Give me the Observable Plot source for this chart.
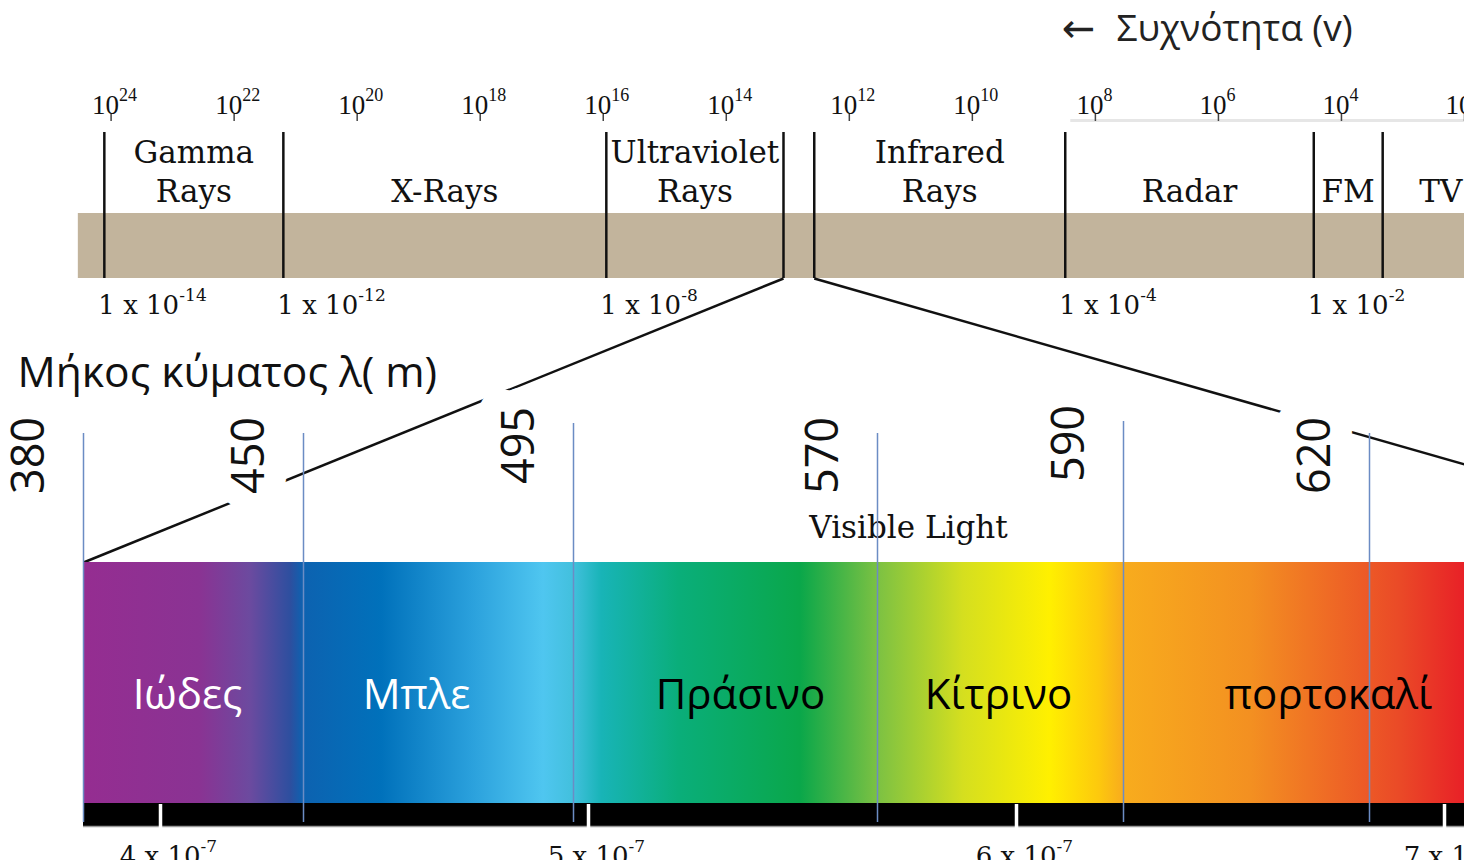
<!DOCTYPE html>
<html><head><meta charset="utf-8">
<script src="https://cdn.jsdelivr.net/npm/d3@7"></script>
<script src="https://cdn.jsdelivr.net/npm/@observablehq/plot@0.6"></script>
<style>
body{margin:0;background:#fff;}
#chart{position:relative;width:1464px;height:860px;overflow:hidden;background:#fff;}
#chart svg{position:absolute;left:0;top:0;}
</style></head><body><div id="chart"></div>
<script>
// ---------- data ----------
const bandNames = ["Gamma\nRays", "X-Rays", "Ultraviolet\nRays", "", "Infrared\nRays", "Radar", "FM", "TV"];
const bandEdges = [24.11, 21.2, 15.95, 13.07, 12.57, 8.49, 4.45, 3.33, 1.44]; // log10 of frequency (Hz)
const freqExponents = [24, 22, 20, 18, 16, 14, 12, 10, 8, 6, 4, 2];
const wavelengthAt = [24.11, 21.2, 15.95, 8.49, 4.45];      // band edge where each wavelength label sits
const wavelengthPow = ["-14", "-12", "-8", "-4", "-2"];       // 1 x 10^pow m
const visibleNm = [380, 450, 495, 570, 590, 620];              // colour boundaries (nm)
const visibleEndNm = 750;
const colorNames = ["Ιώδες", "Μπλε", "Πράσινο", "Κίτρινο", "πορτοκαλί"];
const colorNameInk = ["white", "white", "black", "black", "black"];
const spectrumNm = [380, 417, 433, 446, 450, 463, 478, 490, 495, 502, 521, 551, 570, 577, 584, 588, 590, 605.5, 615, 629, 648, 750];
const spectrumHex = ["#952d91", "#8a3393", "#6c4a9f", "#2d4f9f", "#0d62b0", "#0071bb", "#2aa0dc", "#4fc6f0", "#42c0dd", "#18b4b7", "#0aae7a", "#0aa74a", "#7bc143", "#d5df1f", "#fff000", "#fdc90d", "#f8ac1d", "#f39021", "#ef6b25", "#ea4a27", "#e82127", "#e31e24"];
const barTicksNm = [400, 500, 600, 700];
const barTickDigits = ["4", "5", "6", "7"];
const barTickPow = "-7";

// ---------- layout / style ----------
const W = 1464, H = 860;
const L = {
  freqRange: [110.6, 1464],            // px for 10^24 .. 10^2
  nmRange: [83, 303, 573, 877, 1123, 1369, 1807],
  barNmRange: [160, 1444],
  bandTop: 213, bandBottom: 278, edgeTop: 132,
  bandLabelBase: 201, freqBase: 113, freqExpBase: 100, tickTop: 114, tickBottom: 121,
  wlBase: 313, wlExpBase: 300, wlExpShift: 75,
  specTop: 562, specBottom: 803, barBottom: 826,
  numY: 455, numShift: 54, numRaise: {495: 10, 590: 12}, blueTop: 433, blueBottom: 822,
  nameY: 695, nameNudge: [-6, -22, 15, -2, 82], visY: 537
};
const serifSlab = "DejaVu Serif";
const serif = "Liberation Serif";
const sans = "Open Sans";
const tan = "#c2b49c";
const blue = "#6b8cc4";

const chart = document.getElementById("chart");

// ---------- Plot A: the electromagnetic band (log frequency) ----------
const bands = bandNames.map((name, i) => ({name, x1: bandEdges[i], x2: bandEdges[i + 1], mid: (bandEdges[i] + bandEdges[i + 1]) / 2})).filter(d => d.name);
const wl = wavelengthAt.map((at, i) => ({at, pow: wavelengthPow[i]}));

const plotA = Plot.plot({
  width: W, height: H, margin: 0,
  x: {type: "linear", domain: [24, 2], range: L.freqRange, axis: null},
  y: {type: "linear", domain: [0, H], range: [0, H], axis: null},
  style: {background: "white", overflow: "hidden"},
  marks: [
    Plot.text(["←"], {frameAnchor: "top-left", dx: 1078, dy: 29, textAnchor: "middle", lineAnchor: "middle", fontFamily: "DejaVu Sans", fontSize: 40, fill: "#222"}),
    Plot.text(["Συχνότητα (v)"], {frameAnchor: "top-left", dx: 1116, dy: 40, lineAnchor: "bottom", textAnchor: "start", fontFamily: sans, fontSize: 37, fill: "#222"}),
    Plot.ruleY([0], {x1: 8.4, x2: 2, y: 120, stroke: "#e6e6e6", strokeWidth: 3}),
    Plot.ruleX(freqExponents, {y1: L.tickTop, y2: L.tickBottom, stroke: "#444", strokeWidth: 1.5}),
    Plot.text(freqExponents, {x: d => d, y: L.freqBase, text: () => "10", dx: 8, textAnchor: "end", lineAnchor: "bottom", fontFamily: serif, fontSize: 27, fill: "#111"}),
    Plot.text(freqExponents, {x: d => d, y: L.freqExpBase, text: d => String(d), dx: 8, textAnchor: "start", lineAnchor: "bottom", fontFamily: serif, fontSize: 18, fill: "#111"}),
    Plot.rect([0], {x1: bandEdges[0], x2: bandEdges[bandEdges.length - 1], y1: L.bandTop, y2: L.bandBottom, insetLeft: -26, fill: tan}),
    Plot.ruleX(bandEdges.slice(0, -1), {y1: L.edgeTop, y2: L.bandBottom, stroke: "#111", strokeWidth: 2.5}),
    Plot.text(bands, {x: "mid", y: L.bandLabelBase, text: "name", lineAnchor: "bottom", lineHeight: 1.23, fontFamily: serifSlab, fontSize: 31, fill: "#111"}),
    Plot.text(wl, {x: "at", y: L.wlBase, text: () => "1 x 10", dx: -6, textAnchor: "start", lineAnchor: "bottom", fontFamily: serifSlab, fontSize: 26, fill: "#111"}),
    Plot.text(wl, {x: "at", y: L.wlExpBase, text: "pow", dx: L.wlExpShift, textAnchor: "start", lineAnchor: "bottom", fontFamily: serifSlab, fontSize: 17, fill: "#111"})
  ]
});
chart.appendChild(plotA);
const xFreq = plotA.scale("x").apply;

// ---------- Plot B: visible light (nm) ----------
const nmDomain = [...visibleNm, visibleEndNm];
const xNm = d3.scaleLinear(nmDomain, L.nmRange);
const links = [
  {x1: visibleNm[0], y1: L.specTop, x2: xNm.invert(xFreq(bandEdges[3])), y2: L.bandBottom},
  {x1: visibleEndNm, y1: L.specTop, x2: xNm.invert(xFreq(bandEdges[4])), y2: L.bandBottom}
];
const names = colorNames.map((name, i) => ({name, ink: colorNameInk[i], mid: xNm.invert((xNm(visibleNm[i]) + xNm(visibleNm[i + 1])) / 2 + L.nameNudge[i])}));
const raise = d => L.numRaise[d] || 0;
const numOpts = {x: d => xNm.invert(xNm(d) - L.numShift), y: d => L.numY - raise(d), text: d => String(d), rotate: -90, fontFamily: sans, fontSize: 45, fill: "#111"};

const spectrumDefs = () => {
  const defs = d3.create("svg:defs");
  const g = defs.append("linearGradient").attr("id", "spectrumGrad").attr("x1", 0).attr("x2", 1).attr("y1", 0).attr("y2", 0);
  const a = xNm(visibleNm[0]), b = xNm(visibleEndNm);
  spectrumNm.forEach((nm, i) => g.append("stop").attr("offset", (xNm(nm) - a) / (b - a)).attr("stop-color", spectrumHex[i]));
  return defs.node();
};

const plotB = Plot.plot({
  width: W, height: H, margin: 0,
  x: {type: "linear", domain: nmDomain, range: L.nmRange, axis: null},
  y: {type: "linear", domain: [0, H], range: [0, H], axis: null},
  style: {background: "none", overflow: "hidden"},
  marks: [
    spectrumDefs,
    Plot.link(links, {x1: "x1", y1: "y1", x2: "x2", y2: "y2", stroke: "#111", strokeWidth: 2.5}),
    // labels that sit over the zoom lines get a white halo (gap in the line)
    Plot.text(visibleNm.slice(1), {...numOpts, stroke: "white", strokeWidth: 44, strokeLinejoin: "round", paintOrder: "stroke"}),
    Plot.text(visibleNm.slice(0, 1), numOpts),
    Plot.text(["Μήκος κύματος λ( m)"], {frameAnchor: "top-left", dx: 17, dy: 386, textAnchor: "start", lineAnchor: "bottom", fontFamily: sans, fontSize: 42.5, fill: "#111"}),
    Plot.text(["Visible Light"], {frameAnchor: "top-left", dx: 908, dy: L.visY, textAnchor: "middle", lineAnchor: "bottom", fontFamily: serifSlab, fontSize: 31, fill: "#111"}),
    Plot.rect([0], {x1: visibleNm[0], x2: visibleEndNm, y1: L.specTop, y2: L.specBottom, fill: "url(#spectrumGrad)"}),
    Plot.rect([0], {x1: visibleNm[0], x2: visibleEndNm, y1: L.specBottom, y2: L.barBottom, fill: "black"}),
    Plot.ruleY([0], {x1: visibleNm[0], x2: visibleEndNm, y: L.barBottom, stroke: "#9a9a9a", strokeWidth: 1.5}),
    Plot.text(names, {x: "mid", y: L.nameY, text: "name", fill: "ink", fontFamily: sans, fontSize: 42}),
    Plot.ruleX(visibleNm, {y1: d => L.blueTop - raise(d), y2: L.blueBottom, stroke: blue, strokeWidth: 1.5})
  ]
});
chart.appendChild(plotB);

// ---------- Plot C: metre scale under the spectrum ----------
const plotC = Plot.plot({
  width: W, height: H, margin: 0,
  x: {type: "linear", domain: [barTicksNm[0], barTicksNm[barTicksNm.length - 1]], range: L.barNmRange, axis: null},
  y: {type: "linear", domain: [0, H], range: [0, H], axis: null},
  style: {background: "none", overflow: "hidden"},
  marks: [
    Plot.ruleX(barTicksNm, {y1: L.specBottom + 1, y2: L.barBottom + 4, stroke: "white", strokeWidth: 3.5}),
    Plot.text(barTicksNm, {x: d => d, y: 864, text: (d, i) => barTickDigits[i] + " x 10", dx: 40, textAnchor: "end", lineAnchor: "bottom", fontFamily: serifSlab, fontSize: 26, fill: "#111"}),
    Plot.text(barTicksNm, {x: d => d, y: 851, text: () => barTickPow, dx: 40, textAnchor: "start", lineAnchor: "bottom", fontFamily: serifSlab, fontSize: 17, fill: "#111"})
  ]
});
chart.appendChild(plotC);
</script>
</body></html>
